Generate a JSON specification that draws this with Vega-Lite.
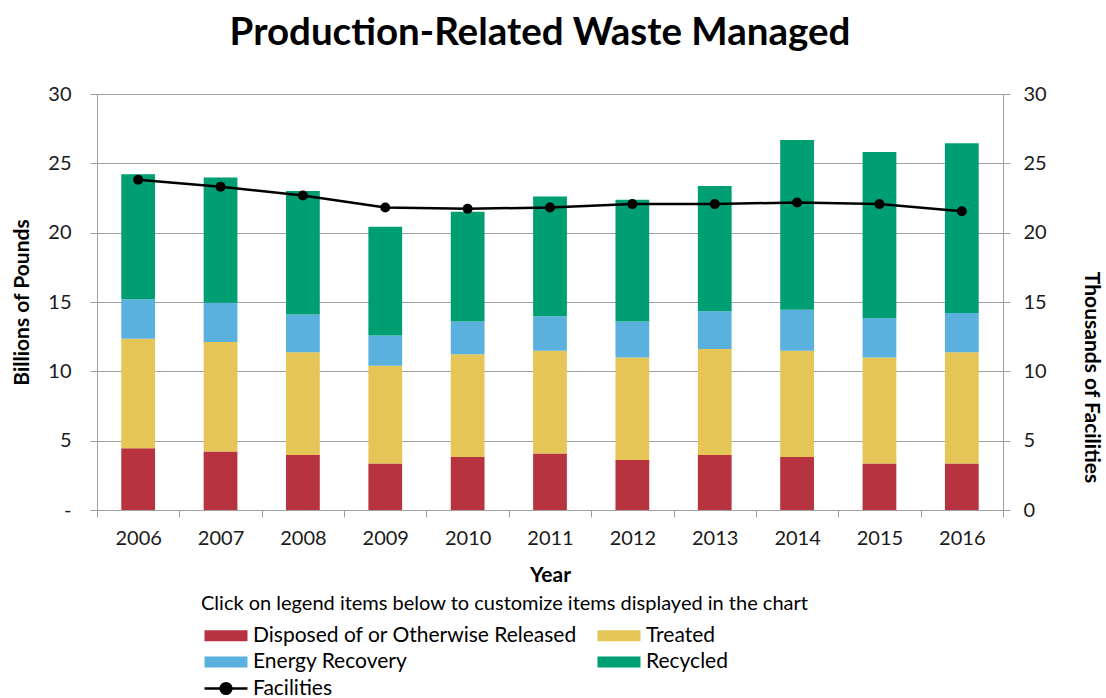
{
  "$schema": "https://vega.github.io/schema/vega-lite/v6.json",
  "width": 906,
  "height": 416,
  "autosize": {"type": "none"},
  "padding": {"left": 97, "top": 94, "right": 103, "bottom": 188},
  "background": "white",
  "config": {
    "font": "Lato",
    "view": {"stroke": null},
    "axis": {
      "domainColor": "#A0A0A0",
      "tickColor": "#A0A0A0",
      "gridColor": "#A0A0A0",
      "labelFont": "Lato",
      "labelFontSize": 20,
      "labelColor": "#1a1a1a",
      "titleFont": "Lato",
      "titleFontSize": 21,
      "titleFontWeight": "bold",
      "titleColor": "#000000",
      "tickSize": 7
    }
  },
  "title": {
    "text": "Production-Related Waste Managed",
    "font": "Lato",
    "fontSize": 38.5,
    "fontWeight": "bold",
    "color": "#000000",
    "anchor": "middle",
    "dx": -10,
    "offset": 31
  },
  "datasets": {
    "waste": [
      {"Year": "2006", "Category": "Disposed of or Otherwise Released", "Value": 4.45},
      {"Year": "2006", "Category": "Treated", "Value": 7.90},
      {"Year": "2006", "Category": "Energy Recovery", "Value": 2.84},
      {"Year": "2006", "Category": "Recycled", "Value": 9.03},
      {"Year": "2007", "Category": "Disposed of or Otherwise Released", "Value": 4.21},
      {"Year": "2007", "Category": "Treated", "Value": 7.90},
      {"Year": "2007", "Category": "Energy Recovery", "Value": 2.84},
      {"Year": "2007", "Category": "Recycled", "Value": 9.03},
      {"Year": "2008", "Category": "Disposed of or Otherwise Released", "Value": 3.97},
      {"Year": "2008", "Category": "Treated", "Value": 7.40},
      {"Year": "2008", "Category": "Energy Recovery", "Value": 2.72},
      {"Year": "2008", "Category": "Recycled", "Value": 8.91},
      {"Year": "2009", "Category": "Disposed of or Otherwise Released", "Value": 3.35},
      {"Year": "2009", "Category": "Treated", "Value": 7.05},
      {"Year": "2009", "Category": "Energy Recovery", "Value": 2.19},
      {"Year": "2009", "Category": "Recycled", "Value": 7.83},
      {"Year": "2010", "Category": "Disposed of or Otherwise Released", "Value": 3.83},
      {"Year": "2010", "Category": "Treated", "Value": 7.41},
      {"Year": "2010", "Category": "Energy Recovery", "Value": 2.36},
      {"Year": "2010", "Category": "Recycled", "Value": 7.90},
      {"Year": "2011", "Category": "Disposed of or Otherwise Released", "Value": 4.07},
      {"Year": "2011", "Category": "Treated", "Value": 7.42},
      {"Year": "2011", "Category": "Energy Recovery", "Value": 2.48},
      {"Year": "2011", "Category": "Recycled", "Value": 8.64},
      {"Year": "2012", "Category": "Disposed of or Otherwise Released", "Value": 3.61},
      {"Year": "2012", "Category": "Treated", "Value": 7.39},
      {"Year": "2012", "Category": "Energy Recovery", "Value": 2.60},
      {"Year": "2012", "Category": "Recycled", "Value": 8.77},
      {"Year": "2013", "Category": "Disposed of or Otherwise Released", "Value": 3.97},
      {"Year": "2013", "Category": "Treated", "Value": 7.64},
      {"Year": "2013", "Category": "Energy Recovery", "Value": 2.72},
      {"Year": "2013", "Category": "Recycled", "Value": 9.03},
      {"Year": "2014", "Category": "Disposed of or Otherwise Released", "Value": 3.83},
      {"Year": "2014", "Category": "Treated", "Value": 7.66},
      {"Year": "2014", "Category": "Energy Recovery", "Value": 2.96},
      {"Year": "2014", "Category": "Recycled", "Value": 12.23},
      {"Year": "2015", "Category": "Disposed of or Otherwise Released", "Value": 3.35},
      {"Year": "2015", "Category": "Treated", "Value": 7.65},
      {"Year": "2015", "Category": "Energy Recovery", "Value": 2.85},
      {"Year": "2015", "Category": "Recycled", "Value": 11.96},
      {"Year": "2016", "Category": "Disposed of or Otherwise Released", "Value": 3.35},
      {"Year": "2016", "Category": "Treated", "Value": 8.02},
      {"Year": "2016", "Category": "Energy Recovery", "Value": 2.84},
      {"Year": "2016", "Category": "Recycled", "Value": 12.23}
    ],
    "facilities": [
      {"Year": "2006", "Facilities": 23.81},
      {"Year": "2007", "Facilities": 23.31},
      {"Year": "2008", "Facilities": 22.68},
      {"Year": "2009", "Facilities": 21.82},
      {"Year": "2010", "Facilities": 21.72},
      {"Year": "2011", "Facilities": 21.82},
      {"Year": "2012", "Facilities": 22.06},
      {"Year": "2013", "Facilities": 22.06},
      {"Year": "2014", "Facilities": 22.18},
      {"Year": "2015", "Facilities": 22.06},
      {"Year": "2016", "Facilities": 21.55}
    ]
  },
  "layer": [
    {
      "data": {"name": "waste"},
      "transform": [
        {"calculate": "indexof(['Disposed of or Otherwise Released', 'Treated', 'Energy Recovery', 'Recycled'], datum.Category)", "as": "StackOrder"}
      ],
      "mark": {"type": "bar", "width": {"band": 0.41}},
      "encoding": {
        "x": {
          "field": "Year",
          "type": "ordinal",
          "scale": {"paddingInner": 0, "paddingOuter": 0},
          "axis": {
            "title": "Year",
            "labelAngle": 0,
            "tickBand": "extent",
            "labelPadding": 11,
            "titlePadding": 16,
            "grid": false
          }
        },
        "y": {
          "field": "Value",
          "type": "quantitative",
          "stack": "zero",
          "scale": {"domain": [0, 30], "nice": false},
          "axis": {
            "title": "Billions of Pounds",
            "values": [0, 5, 10, 15, 20, 25, 30],
            "labelExpr": "datum.value === 0 ? '-' : datum.label",
            "labelPadding": 19,
            "titlePadding": 15,
            "grid": true,
            "gridWidth": 1
          }
        },
        "order": {"field": "StackOrder", "type": "quantitative", "sort": "ascending"},
        "color": {
          "field": "Category",
          "type": "nominal",
          "sort": ["Disposed of or Otherwise Released", "Treated", "Energy Recovery", "Recycled", "Facilities"],
          "scale": {
            "domain": ["Disposed of or Otherwise Released", "Treated", "Energy Recovery", "Recycled", "Facilities"],
            "range": ["#B7333F", "#E4C556", "#5AB1DE", "#009E73", "#000000"]
          },
          "legend": {
            "orient": "none",
            "legendX": 104,
            "legendY": 500,
            "columns": 2,
            "direction": "horizontal",
            "padding": 0,
            "title": "Click on legend items below to customize items displayed in the chart",
            "titleFont": "Lato",
            "titleFontSize": 20,
            "titleFontWeight": "normal",
            "titleColor": "#000000",
            "titleLimit": 1000,
            "titlePadding": 11,
            "labelFont": "Lato",
            "labelFontSize": 21,
            "labelColor": "#000000",
            "labelLimit": 1000,
            "labelOffset": 31,
            "symbolSize": 196,
            "symbolType": "M-1,-0.79H5.14V0.79H-1Z",
            "rowPadding": 4.5,
            "columnPadding": 16,
            "symbolOpacity": 1,
            "encode": {
              "symbols": {
                "update": {
                  "shape": {"signal": "datum.value === 'Facilities' ? 'M-1,0H5.14M1.31,0A0.76,0.76 0 1,0 2.83,0A0.76,0.76 0 1,0 1.31,0Z' : 'M-1,-0.79H5.14V0.79H-1Z'"},
                  "fill": {"scale": "color", "field": "value"},
                  "stroke": {"scale": "color", "field": "value"},
                  "strokeWidth": {"signal": "datum.value === 'Facilities' ? 2.5 : 0"},
                  "opacity": {"value": 1},
                  "fillOpacity": {"value": 1}
                }
              }
            }
          }
        }
      }
    },
    {
      "data": {"name": "facilities"},
      "encoding": {
        "x": {"field": "Year", "type": "ordinal"},
        "y": {
          "field": "Facilities",
          "type": "quantitative",
          "scale": {"domain": [0, 30], "nice": false},
          "axis": {
            "orient": "right",
            "title": "Thousands of Facilities",
            "values": [0, 5, 10, 15, 20, 25, 30],
            "labelPadding": 13,
            "titlePadding": 34,
            "titleY": 283,
            "grid": false
          }
        },
        "color": {"datum": "Facilities", "type": "nominal"}
      },
      "layer": [
        {"mark": {"type": "line", "strokeWidth": 2.5}},
        {"mark": {"type": "point", "filled": true, "size": 100, "opacity": 1}}
      ]
    }
  ],
  "resolve": {"scale": {"y": "independent"}}
}
